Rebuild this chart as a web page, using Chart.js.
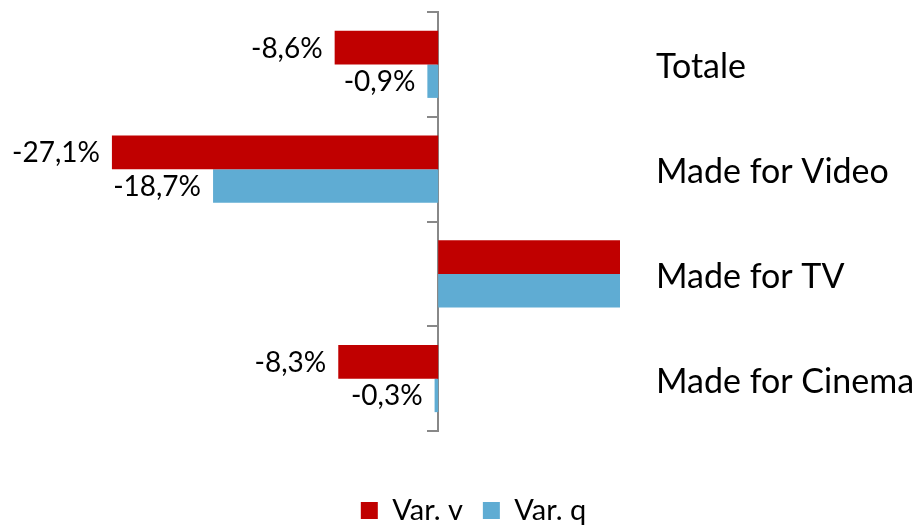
<!DOCTYPE html>
<html>
<head>
<meta charset="utf-8">
<script src="https://cdn.jsdelivr.net/npm/chart.js@4"></script>
<style>
  html, body { margin: 0; padding: 0; background: #fff; }
  #wrap { width: 923px; height: 526px; }
</style>
</head>
<body>
<div id="wrap"><canvas id="grafica" width="923" height="526"></canvas></div>
<script>
// ── Dati ─────────────────────────────────
const categorie = ["Totale", "Made for Video", "Made for TV", "Made for Cinema"];
const varV = [-8.6, -27.1, 15.1, -8.3];
const varQ = [-0.9, -18.7, 15.1, -0.3];

const FONT = "Lato, 'Open Sans', sans-serif";

// etichette valori a sinistra della fine della barra (solo negativi)
const etichetteValori = {
  id: "etichetteValori",
  afterDatasetsDraw(chart) {
    const ctx = chart.ctx;
    ctx.save();
    ctx.font = "28px " + FONT;
    ctx.fillStyle = "#000";
    ctx.textAlign = "right";
    ctx.textBaseline = "middle";
    chart.data.datasets.forEach((ds, i) => {
      chart.getDatasetMeta(i).data.forEach((bar, j) => {
        const v = ds.data[j];
        if (v >= 0) return;
        const txt = v.toFixed(1).replace(".", ",") + "%";
        ctx.fillText(txt, bar.x - 12, bar.y + 1);
      });
    });
    ctx.restore();
  }
};

// nomi categorie a destra
const nomiCategorie = {
  id: "nomiCategorie",
  afterDraw(chart) {
    const ctx = chart.ctx;
    const y = chart.scales.y;
    ctx.save();
    ctx.font = "34px " + FONT;
    ctx.fillStyle = "#000";
    ctx.textAlign = "left";
    ctx.textBaseline = "middle";
    categorie.forEach((c, i) => {
      ctx.fillText(c, 656, y.getPixelForValue(i) + 3);
    });
    ctx.restore();
  }
};

// altezza fissa della legenda, centrata sulla pagina
const altezzaLegenda = {
  id: "altezzaLegenda",
  beforeInit(chart) {
    const fit = chart.legend.fit;
    chart.legend.fit = function () {
      fit.call(this);
      this.height = 50;
    };
  },
  afterLayout(chart) {
    chart.legend.left = 24;
    chart.legend.right = 923;
    chart.legend.width = 899;
  }
};

new Chart(document.getElementById("grafica"), {
  type: "bar",
  data: {
    labels: categorie,
    datasets: [
      { label: "Var. v", data: varV, backgroundColor: "#C00000", categoryPercentage: 0.64, barPercentage: 1.0 },
      { label: "Var. q", data: varQ, backgroundColor: "#5FACD3", categoryPercentage: 0.64, barPercentage: 1.0 }
    ]
  },
  options: {
    indexAxis: "y",
    responsive: false,
    animation: false,
    layout: { padding: { top: 12, left: 77, right: 303, bottom: 0 } },
    plugins: {
      tooltip: { enabled: false },
      legend: {
        position: "bottom",
        labels: {
          color: "#000",
          font: { family: FONT, size: 29 },
          boxWidth: 17,
          boxHeight: 17,
          padding: 20
        }
      }
    },
    scales: {
      x: {
        display: true, min: -30, max: 15.1,
        ticks: { display: false },
        grid: { display: false },
        border: { display: false },
        afterFit(scale) { scale.height = 45; }
      },
      y: {
        position: { x: 0 },
        ticks: { display: false },
        grid: { offset: true, drawOnChartArea: false, tickLength: 10, color: "#888", lineWidth: 2 },
        border: { color: "#888", width: 2 }
      }
    }
  },
  plugins: [etichetteValori, nomiCategorie, altezzaLegenda]
});
</script>
</body>
</html>
